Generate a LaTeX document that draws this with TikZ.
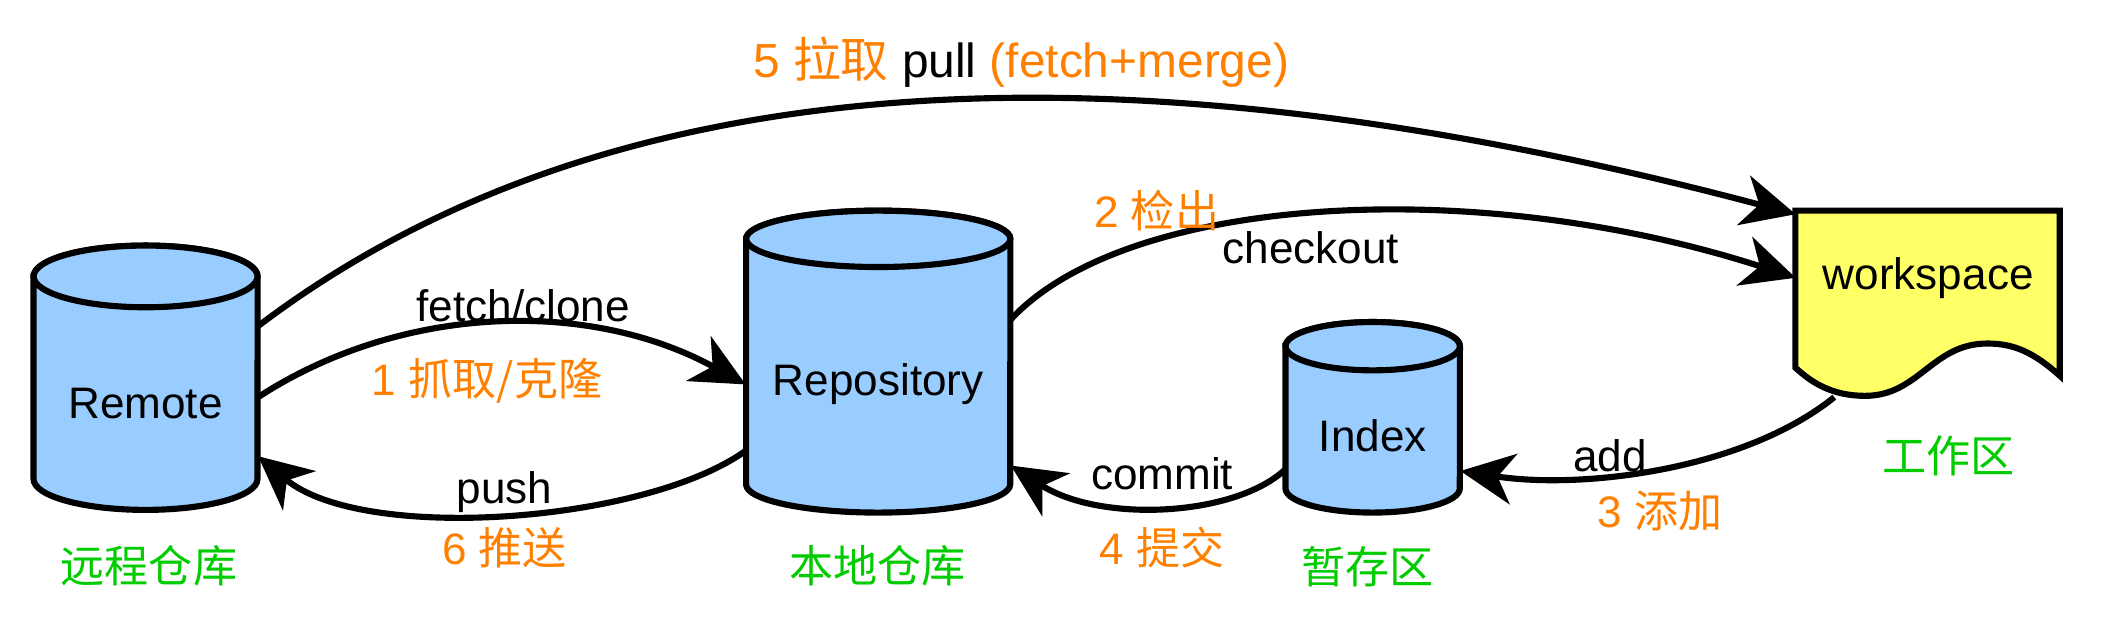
\documentclass[tikz,border=0pt]{standalone}
\usepackage{fontspec}
\setmainfont{Liberation Sans}
\newfontfamily\cjk{Noto Sans CJK SC}
\usetikzlibrary{arrows.meta}

\definecolor{dbblue}{RGB}{153,204,255}
\definecolor{wsyellow}{RGB}{255,255,102}
\definecolor{steporange}{RGB}{255,128,0}
\definecolor{zonegreen}{RGB}{0,204,0}

\newcommand{\picfont}{\fontsize{18.7}{22}\selectfont}

\tikzset{
  dbline/.style={draw=black, line width=2.6pt, fill=dbblue},
  wsline/.style={draw=black, line width=2.6pt, fill=wsyellow, line join=miter},
  dbtext/.style={inner sep=0pt, minimum height=1cm},
  flow/.style={->, line width=2.6pt},
  cmd/.style={text=black},
  steplabel/.style={text=steporange},
  zonelabel/.style={text=zonegreen, font=\picfont\cjk},
}

% #1 name, #2 left, #3 right, #4 top, #5 bottom, #6 cap radius, #7 text
\newcommand{\dbcylinder}[7]{%
  \filldraw[dbline] (#2,#4+#6) -- (#2,#5-#6)
    arc[start angle=180, end angle=360, x radius={(#3-#2)*0.01cm}, y radius={#6*0.02cm}]
    -- (#3,#4+#6)
    arc[start angle=0, end angle=180, x radius={(#3-#2)*0.01cm}, y radius={#6*0.02cm}] -- cycle;
  \draw[dbline] ({(#2+#3)/2},#4+#6) ellipse[x radius={(#3-#2)*0.01cm}, y radius={#6*0.02cm}];
  \node[dbtext, minimum width={(#3-#2)*0.02cm}] (#1) at ({(#2+#3)/2},{(#4+2*#6+#5)/2-4}) {#7};
}

\begin{document}
\begin{tikzpicture}[x=0.02cm, y=-0.02cm, >={Stealth[length=0.8cm, width=0.76cm, inset=0.24cm]},
  every node/.style={font=\picfont}]
\useasboundingbox (0,0) rectangle (1568,472);

% the three stores
\dbcylinder{remote}{25}{192}{183}{380}{23}{Remote}
\dbcylinder{repo}{556}{753}{157}{382}{21}{Repository}
\dbcylinder{index}{958}{1088}{240}{382}{18}{Index}

% the working copy
\filldraw[wsline] (1338,157) -- (1535,157) -- (1535,280)
  .. controls (1515,262) and (1500,256) .. (1481,256)
  .. controls (1440,256) and (1430,295) .. (1390,295)
  .. controls (1365,295) and (1350,285) .. (1338,274) -- cycle;
\node[inner sep=0pt, minimum width=3.94cm, minimum height=1.88cm] (work) at (1437,207) {workspace};
\coordinate (workfoot) at (1367,296);

% names under the stores
\node[zonelabel] (remotename) at (111,422) {远程仓库};
\node[zonelabel] (reponame) at (654,422) {本地仓库};
\node[zonelabel] (indexname) at (1019,422) {暂存区};
\node[zonelabel] (workname) at (1452,340) {工作区};

% the arrows
\draw[flow] ([yshift=1.15cm]remote.east) .. controls (460,40) and (850,30) .. (work.north west);
\draw[flow] ([yshift=0.09cm]remote.east) .. controls (300,226) and (440,223) .. (repo.west);
\draw[flow] ([yshift=-0.99cm]repo.west) .. controls (480,390) and (270,405) .. ([yshift=-0.79cm]remote.east);
\draw[flow] ([yshift=0.97cm]repo.east) .. controls (840,145) and (1100,130) .. (work.west);
\draw[flow] (workfoot) .. controls (1300,350) and (1180,365) .. ([yshift=-0.52cm]index.east);
\draw[flow] ([yshift=-0.5cm]index.west) .. controls (920,385) and (820,390) .. ([yshift=-1.21cm]repo.east);

% the labels on the arrows
\node[cmd, font=\fontsize{20.3}{24}\selectfont] (pulltext) at (761,46) {\textcolor{steporange}{5 {\cjk 拉取}} pull \textcolor{steporange}{(fetch+merge)}};
\node[cmd] (fetchtext) at (390,228) {fetch/clone};
\node[steplabel] (fetchstep) at (363,284) {1 {\cjk 抓取/克隆}};
\node[cmd] (pushtext) at (376,367) {push};
\node[steplabel] (pushstep) at (376,408) {6 {\cjk 推送}};
\node[steplabel] (checkoutstep) at (862,157) {2 {\cjk 检出}};
\node[cmd] (checkouttext) at (977,185) {checkout};
\node[cmd] (committext) at (866,353) {commit};
\node[steplabel] (commitstep) at (866,408) {4 {\cjk 提交}};
\node[cmd] (addtext) at (1200,340) {add};
\node[steplabel] (addstep) at (1237,381) {3 {\cjk 添加}};
\end{tikzpicture}
\end{document}
